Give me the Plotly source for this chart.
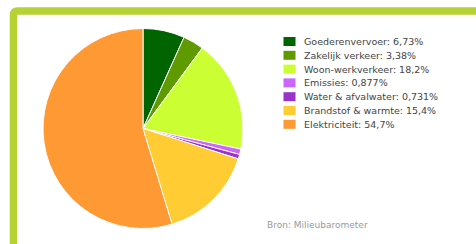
import plotly.graph_objects as go

labels = ["Goederenvervoer", "Zakelijk verkeer", "Woon-werkverkeer", "Emissies",
          "Water & afvalwater", "Brandstof & warmte", "Elektriciteit"]
values = [6.73, 3.38, 18.2, 0.877, 0.731, 15.4, 54.7]
value_text = ["6,73%", "3,38%", "18,2%", "0,877%", "0,731%", "15,4%", "54,7%"]
colors = ["#006400", "#5f9a00", "#ccff33", "#cc66ff", "#9933cc", "#ffcc33", "#ff9933"]
source = "Bron: Milieubarometer"

W, H = 476, 244

def px(x):
    return x / W

def py(y):
    return (H - y) / H

fig = go.Figure()
fig.add_trace(go.Pie(
    labels=[f"{l}: {v}" for l, v in zip(labels, value_text)],
    values=values,
    marker=dict(colors=colors, line=dict(color="white", width=1)),
    sort=False, direction="clockwise", rotation=0,
    textinfo="none", hoverinfo="label", showlegend=False,
    domain=dict(x=[px(43), px(243)], y=[py(229), py(28)]),
))

green = "#b5d334"
# frame (top and left edges, extending beyond the view)
fig.add_shape(type="path", xref="paper", yref="paper",
              path=f"M {px(13.5)} {-0.2} L {px(13.5)} {py(15)} Q {px(13.5)} {py(11)} {px(17.5)} {py(11)} L 1.2 {py(11)}",
              line=dict(color=green, width=7.5), layer="below")

# legend built from the data arrays
for i, (lab, vt, col) in enumerate(zip(labels, value_text, colors)):
    yc = 41.5 + 13.8 * i
    fig.add_shape(type="rect", xref="paper", yref="paper",
                  x0=px(283.5), x1=px(295.5), y0=py(yc - 4.5), y1=py(yc + 4.5),
                  fillcolor=col, line=dict(width=0))
    fig.add_annotation(text=f"{lab}: {vt}", xref="paper", yref="paper",
                       x=px(302), y=py(yc), xanchor="left", yanchor="middle",
                       showarrow=False,
                       font=dict(family="DejaVu Sans", size=9.5, color="#444444"))

fig.add_annotation(text=source, xref="paper", yref="paper", x=px(265), y=py(225),
                   xanchor="left", yanchor="middle", showarrow=False,
                   font=dict(family="DejaVu Sans", size=9, color="#999999"))

fig.update_layout(
    width=W, height=H,
    margin=dict(l=0, r=0, t=0, b=0),
    paper_bgcolor="white", plot_bgcolor="white",
    showlegend=False,
)

fig.write_html("out.html", config={"displayModeBar": False},
               post_script="document.body.style.margin='0';")
